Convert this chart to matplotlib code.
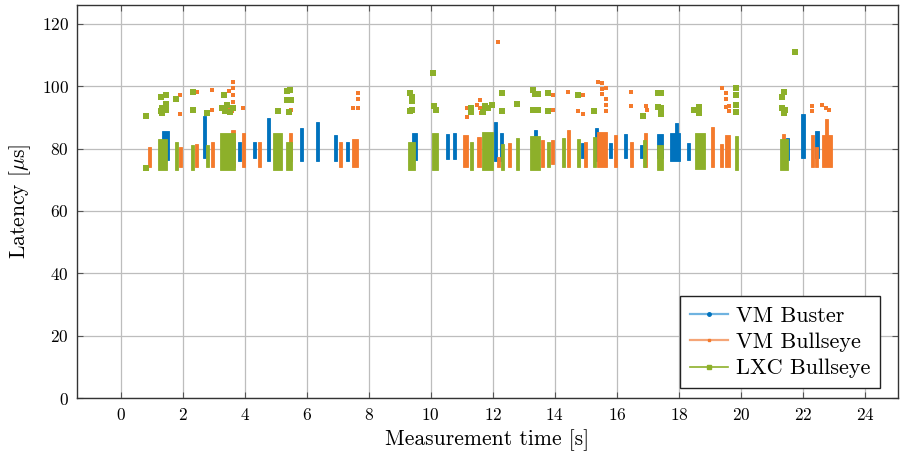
import matplotlib
matplotlib.use('Agg')
import matplotlib.pyplot as plt
from matplotlib.lines import Line2D

plt.rcParams['font.family'] = ['cmr10', 'DejaVu Serif']
plt.rcParams['axes.formatter.use_mathtext'] = True
plt.rcParams['mathtext.fontset'] = 'cm'

series_names = ['VM Buster', 'VM Bullseye', 'LXC Bullseye']

# dense bursts of samples: start time [s], end time [s], min / max latency [us]
buster_t0 = [1.35, 2.65, 3.78, 4.27, 4.72, 5.78, 6.30, 6.88, 7.26, 9.41, 10.48, 10.71,
             12.03, 12.22, 13.32, 14.83, 15.29, 15.74, 16.22, 16.73, 17.30, 17.72,
             17.86, 18.25, 21.44, 21.95, 22.40]
buster_t1 = [1.55, 2.77, 3.88, 4.37, 4.82, 5.88, 6.40, 6.98, 7.36, 9.57, 10.58, 10.81,
             12.13, 12.32, 13.42, 14.93, 15.39, 15.84, 16.32, 16.83, 17.49, 18.04,
             17.96, 18.35, 21.54, 22.05, 22.50]
buster_lo = [76.4, 77.0, 76.0, 77.0, 76.0, 76.0, 76.0, 76.0, 76.0, 76.4, 76.7, 76.7,
             76.0, 76.0, 76.0, 77.0, 76.0, 77.0, 77.0, 77.0, 77.0, 76.0,
             84.0, 76.4, 76.4, 77.0, 77.0]
buster_hi = [85.7, 90.5, 82.0, 82.0, 89.8, 86.7, 88.5, 84.4, 82.0, 85.0, 84.7, 85.0,
             88.5, 85.0, 86.0, 81.8, 86.7, 81.8, 84.7, 81.0, 84.7, 85.0,
             88.2, 81.8, 83.4, 91.0, 85.7]

bullseye_t0 = [0.88, 1.89, 2.41, 2.92, 3.55, 3.92, 4.44, 5.44, 7.05, 7.47, 11.05, 11.50,
               12.14, 12.49, 13.56, 13.88, 14.39, 14.94, 15.37, 15.91, 16.42, 16.87,
               19.03, 19.33, 19.50, 21.32, 22.25, 22.38, 22.62, 22.70]
bullseye_t1 = [0.97, 1.98, 2.50, 3.01, 3.68, 4.01, 4.53, 5.53, 7.14, 7.67, 11.21, 11.63,
               12.23, 12.58, 13.65, 13.97, 14.48, 15.03, 15.69, 16.00, 16.51, 16.96,
               19.12, 19.42, 19.65, 21.41, 22.34, 22.47, 22.94, 22.80]
bullseye_lo = [74.0, 74.0, 74.0, 74.0, 74.0, 74.0, 74.0, 76.0, 74.0, 74.0, 74.0, 74.0,
               74.0, 74.0, 74.0, 75.0, 74.0, 74.0, 74.0, 74.0, 74.0, 74.0,
               74.0, 74.0, 74.0, 82.8, 74.0, 74.0, 74.0, 84.0]
bullseye_hi = [80.5, 80.5, 81.5, 82.0, 86.0, 85.0, 82.0, 85.0, 82.0, 83.0, 84.4, 83.7,
               77.3, 81.8, 82.8, 82.8, 86.0, 82.0, 85.3, 84.4, 82.0, 85.0,
               87.0, 81.5, 84.4, 84.7, 84.4, 80.5, 84.4, 89.5]

lxc_t0 = [1.22, 1.76, 2.28, 2.76, 3.19, 4.93, 5.32, 9.28, 10.05, 11.27, 11.66, 12.27,
          12.75, 13.21, 13.75, 14.23, 14.72, 15.23, 16.84, 17.30, 18.52, 19.81, 21.26]
lxc_t1 = [1.51, 1.86, 2.37, 2.85, 3.70, 5.22, 5.54, 9.50, 10.24, 11.36, 12.02, 12.36,
          12.84, 13.53, 13.84, 14.32, 14.81, 15.32, 16.93, 17.49, 18.85, 19.90, 21.50]
lxc_lo = [73.0, 73.0, 73.0, 74.0, 73.0, 73.0, 73.0, 73.0, 73.0, 73.0, 73.0, 73.0,
          73.0, 73.0, 74.0, 74.0, 74.0, 74.0, 74.0, 73.0, 73.5, 73.0, 73.0]
lxc_hi = [83.0, 82.0, 81.0, 81.0, 85.0, 85.0, 82.0, 82.0, 85.0, 82.0, 85.3, 81.5,
          83.5, 84.0, 82.0, 83.4, 83.0, 83.7, 82.8, 81.0, 85.0, 84.0, 83.0]

# isolated samples: time [s], latency [us]
bullseye_out_t = [1.93, 1.93, 2.45, 2.96, 2.96, 3.51, 3.51, 3.64, 3.64, 3.64, 3.64, 3.64,
                  3.58, 3.96, 5.48, 5.48, 7.64, 7.64, 7.50, 7.64, 11.18, 11.18, 11.50,
                  11.60, 11.60, 11.63, 12.18, 13.95, 13.95, 14.43, 14.91, 14.76, 14.91,
                  15.40, 15.52, 15.52, 15.52, 15.65, 15.65, 15.65, 15.65, 16.46, 16.46,
                  16.94, 16.97, 19.40, 19.52, 19.52, 19.52, 19.62, 19.62, 22.29, 22.29,
                  22.62, 22.75, 22.85]
bullseye_out_y = [97.2, 91.1, 98.0, 98.8, 92.4, 98.5, 93.0, 101.4, 99.5, 97.2, 95.0, 93.0,
                  92.1, 93.0, 96.0, 92.4, 97.8, 96.0, 93.0, 93.0, 93.0, 90.2, 94.0,
                  95.6, 93.0, 91.4, 114.2, 92.4, 97.2, 98.2, 97.2, 92.1, 91.1,
                  101.4, 101.0, 99.0, 97.5, 99.5, 96.0, 94.0, 92.0, 98.2, 93.7,
                  93.7, 92.4, 99.5, 97.8, 96.0, 93.4, 93.7, 92.1, 93.7, 92.1,
                  94.0, 93.0, 92.4]

lxc_out_t = [0.81, 0.81, 1.29, 1.35, 1.29, 1.35, 1.48, 1.48, 1.48, 1.80, 2.32, 2.32, 2.80,
             3.32, 3.26, 3.42, 3.52, 3.64, 3.38, 5.09, 5.38, 5.45, 5.38, 5.48, 5.42,
             9.34, 9.41, 9.41, 9.34, 9.41, 10.08, 10.12, 10.18, 11.31, 11.31,
             11.76, 11.86, 11.96, 11.70, 12.31, 12.31, 12.79, 13.30, 13.37, 13.46, 13.30,
             13.46, 13.79, 13.79, 14.76, 15.27, 16.85, 17.32, 17.43, 17.32, 17.43, 17.43,
             18.50, 18.66, 18.66, 19.85, 19.85, 19.85, 19.85, 21.32, 21.39, 21.32, 21.42,
             21.39, 21.75]
lxc_out_y = [73.8, 90.4, 96.6, 93.0, 92.1, 91.4, 97.2, 94.3, 92.4, 96.0, 98.2, 92.4, 91.4,
             97.2, 93.0, 94.0, 91.8, 93.0, 92.1, 92.1, 98.5, 98.8, 95.6, 95.6, 91.8,
             97.8, 96.6, 95.3, 92.1, 92.4, 104.2, 93.7, 92.4, 93.0, 91.8,
             93.7, 93.0, 94.0, 91.8, 97.8, 92.1, 94.3, 98.8, 97.5, 97.5, 92.4,
             92.4, 97.8, 92.1, 97.2, 92.1, 90.5, 97.8, 97.8, 93.4, 93.0, 91.1,
             92.4, 93.4, 91.4, 99.5, 97.2, 94.0, 91.8, 96.6, 98.2, 93.0, 92.4,
             91.4, 111.0]

colors = ['#0072BD', '#F47A2C', '#8DB02A']

fig, ax = plt.subplots(figsize=(9.02, 4.53), dpi=100)
fig.subplots_adjust(left=0.0855, right=0.9955, top=0.989, bottom=0.121)

def draw_bursts(t0, t1, lo, hi, color, min_w):
    for a, b, l, h in zip(t0, t1, lo, hi):
        w = max(b - a, min_w)
        ax.bar(a, h - l, width=w, bottom=l, align='edge', color=color,
               edgecolor=color, linewidth=0.6, zorder=3)

draw_bursts(buster_t0, buster_t1, buster_lo, buster_hi, colors[0], 0.1)
draw_bursts(bullseye_t0, bullseye_t1, bullseye_lo, bullseye_hi, colors[1], 0.08)
ax.scatter(bullseye_out_t, bullseye_out_y, s=5, marker='s', color=colors[1],
           linewidths=0, zorder=3)
draw_bursts(lxc_t0, lxc_t1, lxc_lo, lxc_hi, colors[2], 0.1)
ax.scatter(lxc_out_t, lxc_out_y, s=14, marker='s', color=colors[2],
           linewidths=0, zorder=4)

ax.set_xlim(-1.4, 25.06)
ax.set_ylim(0, 126)
ax.set_xticks(range(0, 25, 2))
ax.set_yticks(range(0, 121, 20))
ax.grid(True, color='#bdbdbd', linewidth=0.9)
ax.set_axisbelow(True)
ax.tick_params(direction='in', length=4, labelsize=12.5, color='#555555',
               top=True, right=True, pad=6)
for sp in ax.spines.values():
    sp.set_color('#333333')
    sp.set_linewidth(1.0)

ax.set_xlabel('Measurement time [s]', fontsize=15.5, labelpad=5)
ax.set_ylabel(r'Latency [$\mu$s]', fontsize=15.5, labelpad=6)

handles = [
    Line2D([], [], color='#6fb3e0', lw=1.6, marker='o', markersize=2.5,
           markerfacecolor=colors[0], markeredgecolor=colors[0]),
    Line2D([], [], color='#f5a577', lw=1.6, marker='s', markersize=1.8,
           markerfacecolor=colors[1], markeredgecolor=colors[1]),
    Line2D([], [], color=colors[2], lw=1.2, marker='s', markersize=3.2,
           markerfacecolor=colors[2], markeredgecolor=colors[2]),
]
leg = ax.legend(handles, series_names, loc='lower right', fontsize=16,
                frameon=True, fancybox=False, edgecolor='#222222',
                handlelength=1.7, borderpad=0.45, labelspacing=0.3,
                handletextpad=0.35, borderaxespad=0,
                bbox_to_anchor=(0.978, 0.025))
leg.get_frame().set_linewidth(1.0)
leg.get_frame().set_alpha(1)

fig.savefig('out.png', dpi=100)
